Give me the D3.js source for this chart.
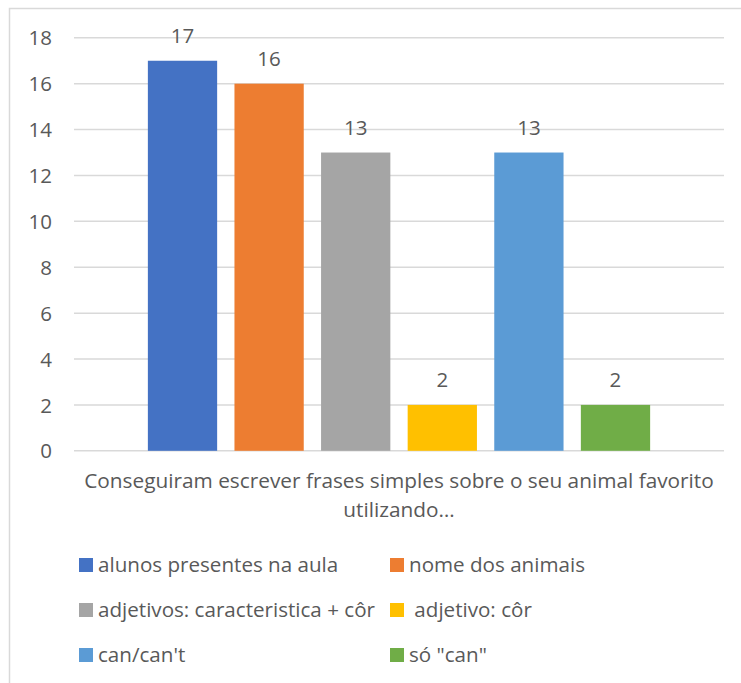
<!DOCTYPE html>
<html>
<head>
<meta charset="utf-8">
<script src="https://cdn.jsdelivr.net/npm/d3@7"></script>
<style>
  html, body { margin: 0; padding: 0; background: #fff; }
  svg text { font-family: "Open Sans", "Noto Sans", sans-serif; fill: #595959; }
</style>
</head>
<body>
<svg id="chart" width="741" height="683"></svg>
<script>
// One category, six series
const category = "Conseguiram escrever frases simples sobre o seu animal favorito utilizando…";
const categoryLines = ["Conseguiram escrever frases simples sobre o seu animal favorito", "utilizando…"];
const seriesNames = ["alunos presentes na aula", "nome dos animais", "adjetivos: caracteristica + côr", " adjetivo: côr", "can/can't", "só \"can\""];
const seriesValues = [17, 16, 13, 2, 13, 2];
const seriesColors = ["#4472C4", "#ED7D31", "#A5A5A5", "#FFC000", "#5B9BD5", "#70AD47"];
const yTicks = [0, 2, 4, 6, 8, 10, 12, 14, 16, 18];

const svg = d3.select("#chart");

// chart frame
svg.append("rect")
  .attr("x", 9.5).attr("y", 8.5)
  .attr("width", 745).attr("height", 690)
  .attr("fill", "none").attr("stroke", "#D9D9D9").attr("stroke-width", 1.5);

const plot = { left: 74, right: 724, top: 37.8, bottom: 450.8 };

const y = d3.scaleLinear().domain([0, 18]).range([plot.bottom, plot.top]);
const x0 = d3.scaleBand().domain([category]).range([plot.left, plot.right]).paddingOuter(0.1255);
const x1 = d3.scaleBand().domain(seriesNames).range([0, x0.bandwidth()]).paddingInner(0.2).paddingOuter(0.1);

// gridlines
svg.append("g").selectAll("line").data(yTicks).join("line")
  .attr("x1", plot.left).attr("x2", plot.right)
  .attr("y1", d => y(d)).attr("y2", d => y(d))
  .attr("stroke", "#D9D9D9").attr("stroke-width", 1.5);

// y axis labels
const yAxis = d3.axisLeft(y).tickValues(yTicks).tickSize(0).tickPadding(0);
const gy = svg.append("g").attr("transform", `translate(${plot.left - 22},0)`).call(yAxis);
gy.select(".domain").remove();
gy.selectAll("text").attr("font-size", 20.5).attr("dy", "0.35em").style("font-family", null).attr("fill", null);

// bars
const data = seriesNames.map((s, i) => ({ s, v: seriesValues[i], c: seriesColors[i] }));
const g = svg.append("g").attr("transform", `translate(${x0(category)},0)`);
g.selectAll("rect").data(data).join("rect")
  .attr("x", d => x1(d.s)).attr("width", x1.bandwidth())
  .attr("y", d => y(d.v)).attr("height", d => y(0) - y(d.v))
  .attr("fill", d => d.c);

// value labels
g.selectAll("text.val").data(data).join("text").attr("class", "val")
  .attr("x", d => x1(d.s) + x1.bandwidth() / 2)
  .attr("y", d => y(d.v) - 18)
  .attr("text-anchor", "middle").attr("font-size", 20.5)
  .text(d => d.v);

// category axis label, wrapped on two lines
svg.append("g").selectAll("text").data(categoryLines).join("text")
  .attr("x", (plot.left + plot.right) / 2)
  .attr("y", (d, i) => 488 + i * 29)
  .attr("text-anchor", "middle").attr("font-size", 20.8)
  .text(d => d);

// legend
const legendCols = [79, 390];
const legendRows = [565, 610, 655];
const lg = svg.append("g").selectAll("g").data(data).join("g")
  .attr("transform", (d, i) => `translate(${legendCols[i % 2]},${legendRows[Math.floor(i / 2)]})`);
lg.append("rect").attr("x", 0).attr("y", -7).attr("width", 14).attr("height", 14).attr("fill", d => d.c);
lg.append("text").attr("x", 19).attr("y", 0).attr("dy", "0.35em")
  .attr("font-size", 20.6).style("white-space", "pre")
  .text(d => d.s);
</script>
</body>
</html>
